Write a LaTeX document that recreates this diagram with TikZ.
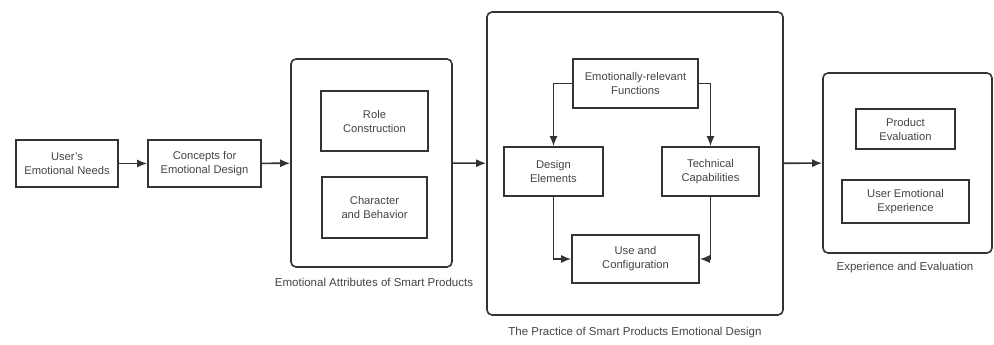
\documentclass[tikz,border=0pt]{standalone}
\usepackage{fontspec}
\setmainfont{Liberation Sans}
\usetikzlibrary{arrows.meta}
\definecolor{linegray}{HTML}{333333}
\definecolor{textgray}{HTML}{444444}
\begin{document}
\begin{tikzpicture}[x=1pt,y=-1pt,
    box/.style = {draw=linegray, line width=1.6pt, inner sep=0pt, align=center,
                  text=textgray, font=\fontsize{11.2}{14}\selectfont},
    group/.style = {draw=linegray, line width=1.6pt, rounded corners=5pt, inner sep=0pt},
    caption/.style = {text=textgray, font=\fontsize{11.5}{14}\selectfont},
    link/.style = {->, draw=linegray, line width=1.6pt},
    >={Latex[length=10pt,width=8pt]}]
    \useasboundingbox (0,0) rectangle (994,345);
    % groups
    \node at (371.5,163) [group,minimum width=161pt,minimum height=208pt] (attr) {};
    \node at (635,163.5) [group,minimum width=296pt,minimum height=303pt] (practice) {};
    \node at (907.5,163) [group,minimum width=169pt,minimum height=180pt] (eval) {};
    \node at (374,282) [caption] (attrlabel) {Emotional Attributes of Smart Products};
    \node at (635,333) [caption] (practicelabel) {The Practice of Smart Products Emotional Design};
    \node at (905,268) [caption] (evallabel) {Experience and Evaluation};
    % boxes
    \node at (67,163.5) [box,minimum width=102pt,minimum height=47pt] (needs) {User's\\Emotional Needs};
    \node at (204.5,163.5) [box,minimum width=113pt,minimum height=47pt] (concepts) {Concepts for\\Emotional Design};
    \node at (374.5,121) [box,minimum width=107pt,minimum height=60pt] (role) {Role\\Construction};
    \node at (374.5,207.5) [box,minimum width=105pt,minimum height=61pt] (character) {Character\\and Behavior};
    \node at (635.5,83.5) [box,minimum width=125pt,minimum height=49pt] (functions) {Emotionally-relevant\\Functions};
    \node at (553.5,171.5) [box,minimum width=99pt,minimum height=49pt] (design) {Design\\Elements};
    \node at (710.5,171.5) [box,minimum width=97pt,minimum height=49pt] (technical) {Technical\\Capabilities};
    \node at (635.5,259) [box,minimum width=127pt,minimum height=48pt] (use) {Use and\\Configuration};
    \node at (905.5,129) [box,minimum width=99pt,minimum height=40pt] (product) {Product\\Evaluation};
    \node at (905.5,201.5) [box,minimum width=127pt,minimum height=43pt] (experience) {User Emotional\\Experience};
    % connectors
    \draw[link] (needs) -- (concepts);
    \draw[link] (concepts) -- (attr);
    \draw[link] (attr) -- (practice);
    \draw[link] (practice) -- (eval);
    \draw[link] (functions.west) -| (design.north);
    \draw[link] (functions.east) -| (technical.north);
    \draw[link] (design.south) |- (use.west);
    \draw[link] (technical.south) |- (use.east);
\end{tikzpicture}
\end{document}
